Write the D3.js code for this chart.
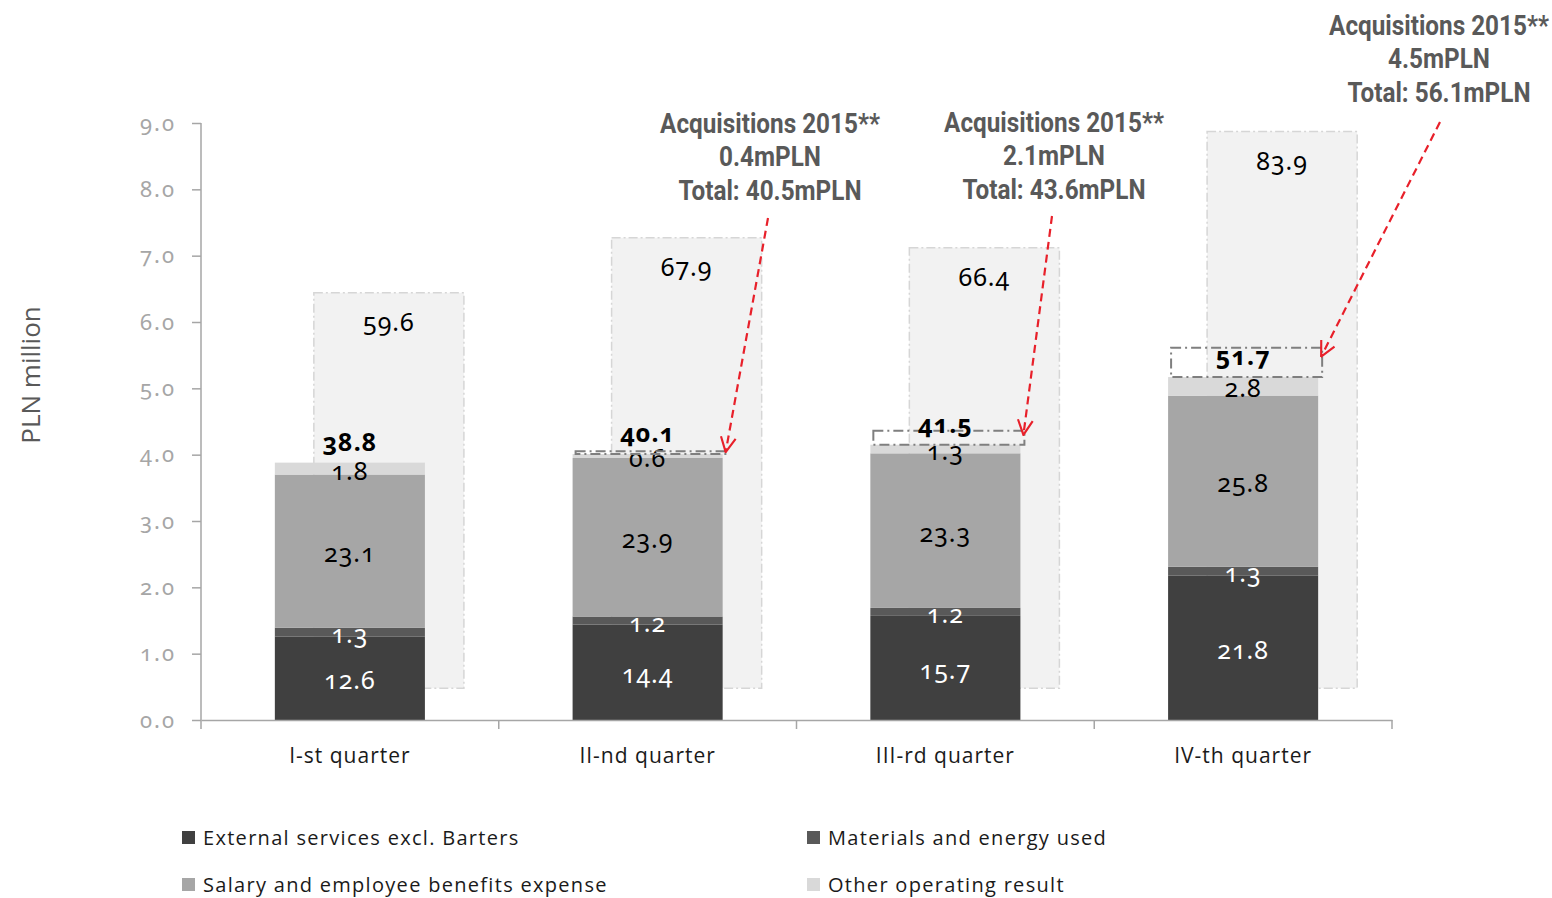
<!DOCTYPE html>
<html>
<head>
<meta charset="utf-8">
<script src="https://cdn.jsdelivr.net/npm/d3@7/dist/d3.min.js"></script>
<style>
  html, body { margin: 0; padding: 0; background: #fff; }
  svg { display: block; }
  .num { font-family: "Noto Sans", "Open Sans", sans-serif; font-feature-settings: "onum" 1; font-variant-numeric: oldstyle-nums; }
  .cat { font-family: "Open Sans", "Noto Sans", sans-serif; }
  .ann { font-family: Roboto, "Liberation Sans", sans-serif; font-weight: 700; fill: #595959; }
</style>
</head>
<body>
<svg id="chart" width="1552" height="898"></svg>
<script>
// Quarterly operating costs (PLN million)
const quarters = ["I-st quarter", "II-nd quarter", "III-rd quarter", "IV-th quarter"];
const externalServices = [12.6, 14.4, 15.7, 21.8];
const materialsEnergy = [1.3, 1.2, 1.2, 1.3];
const salaryBenefits = [23.1, 23.9, 23.3, 25.8];
const otherOperating = [1.8, 0.6, 1.3, 2.8];
const quarterTotals = [38.8, 40.1, 41.5, 51.7];
const acquisitions = [null, 0.4, 2.1, 4.5];
const acquisitionTotals = [null, 40.5, 43.6, 56.1];
const previousYear = [59.6, 67.9, 66.4, 83.9];
const yTickValues = [0, 10, 20, 30, 40, 50, 60, 70, 80, 90];
const yTickLabels = ["0.0", "1.0", "2.0", "3.0", "4.0", "5.0", "6.0", "7.0", "8.0", "9.0"];

const seriesNames = ["External services excl. Barters", "Materials and energy used",
                     "Salary and employee benefits expense", "Other operating result"];
const seriesValues = [externalServices, materialsEnergy, salaryBenefits, otherOperating];
const seriesColors = ["#404040", "#595959", "#a6a6a6", "#d9d9d9"];
const labelColors = ["#ffffff", "#ffffff", "#000000", "#000000"];

const svg = d3.select("#chart");
const plot = { left: 201, right: 1392, top: 123, bottom: 720 };

const x = d3.scaleBand().domain(quarters).range([plot.left, plot.right]).padding(0);
const y = d3.scaleLinear().domain([0, 90]).range([plot.bottom, plot.top]);
const barW = x.bandwidth() * 0.504;
const barX = q => x(q) + (x.bandwidth() - barW) / 2;
const prevShift = x.bandwidth() * 0.131;   // previous-year column sits behind, shifted right
const prevBase = 4.8;                       // previous-year column starts slightly above zero

// previous-year background columns
const prev = svg.append("g");
quarters.forEach((q, i) => {
  prev.append("rect")
    .attr("x", barX(q) + prevShift)
    .attr("y", y(prevBase + previousYear[i]))
    .attr("width", barW)
    .attr("height", y(prevBase) - y(prevBase + previousYear[i]))
    .attr("fill", "#f2f2f2")
    .attr("stroke", "#d6d6d6")
    .attr("stroke-width", 1.5)
    .attr("stroke-dasharray", "9,3,2,3");
  prev.append("text").attr("class", "num")
    .attr("x", barX(q) + prevShift + barW / 2)
    .attr("y", y(prevBase + previousYear[i]) + 38)
    .attr("text-anchor", "middle")
    .attr("font-size", 25)
    .attr("letter-spacing", 1)
    .attr("fill", "#000")
    .text(previousYear[i].toFixed(1));
});

// stacked bars
const stackRows = quarters.map((q, i) => {
  const row = { quarter: q };
  seriesNames.forEach((s, k) => row[s] = seriesValues[k][i]);
  return row;
});
const stacked = d3.stack().keys(seriesNames)(stackRows);
const bars = svg.append("g");
stacked.forEach((layer, k) => {
  bars.selectAll(null).data(layer).join("rect")
    .attr("x", d => barX(d.data.quarter))
    .attr("y", d => y(d[1]))
    .attr("width", barW)
    .attr("height", d => y(d[0]) - y(d[1]))
    .attr("fill", seriesColors[k]);
});
stacked.forEach((layer, k) => {
  bars.selectAll(null).data(layer).join("text")
    .attr("class", "num")
    .attr("x", d => barX(d.data.quarter) + barW / 2)
    .attr("y", d => (y(d[0]) + y(d[1])) / 2 + 11)
    .attr("text-anchor", "middle")
    .attr("font-size", 25)
    .attr("letter-spacing", 1)
    .attr("fill", labelColors[k])
    .text(d => (d[1] - d[0]).toFixed(1));
});

// acquisition boxes on top of the bars
const acq = svg.append("g");
quarters.forEach((q, i) => {
  if (acquisitions[i] == null) return;
  acq.append("rect")
    .attr("x", barX(q) + 3)
    .attr("y", y(acquisitionTotals[i]))
    .attr("width", barW + 1)
    .attr("height", y(quarterTotals[i]) - y(acquisitionTotals[i]))
    .attr("fill", "none")
    .attr("stroke", "#7f7f7f")
    .attr("stroke-width", 2)
    .attr("stroke-dasharray", "10,4,2,4");
});

// totals
quarters.forEach((q, i) => {
  svg.append("text").attr("class", "num")
    .attr("x", barX(q) + barW / 2)
    .attr("y", y(quarterTotals[i]) - 12)
    .attr("text-anchor", "middle")
    .attr("font-size", 25)
    .attr("font-weight", 700)
    .attr("letter-spacing", 1)
    .attr("fill", "#000")
    .text(quarterTotals[i].toFixed(1));
});

// axes
const axisColor = "#a6a6a6";
const yAxis = svg.append("g")
  .attr("transform", `translate(${plot.left},0)`)
  .call(d3.axisLeft(y).tickValues(yTickValues).tickFormat((d, i) => yTickLabels[i]).tickSize(9).tickPadding(16));
yAxis.select(".domain").attr("stroke", axisColor).attr("stroke-width", 1.5).attr("d", `M0,${plot.top}V${plot.bottom}`);
yAxis.selectAll(".tick line").attr("stroke", axisColor).attr("stroke-width", 1.5);
yAxis.selectAll("text").attr("class", "num").attr("font-size", 22).attr("letter-spacing", 2).attr("fill", "#a6a6a6");

const xAxis = svg.append("g")
  .attr("transform", `translate(0,${plot.bottom})`)
  .call(d3.axisBottom(x).tickSize(0).tickPadding(28));
xAxis.select(".domain").attr("stroke", axisColor).attr("stroke-width", 1.5);
xAxis.selectAll("text").attr("class", "cat").attr("font-size", 21).attr("letter-spacing", 1).attr("fill", "#1a1a1a");
const bounds = quarters.map(q => x(q)).concat([plot.right]);
xAxis.selectAll(".bound").data(bounds).join("line")
  .attr("x1", d => d).attr("x2", d => d).attr("y1", 0).attr("y2", 9)
  .attr("stroke", axisColor).attr("stroke-width", 1.5);

// y title
svg.append("text")
  .attr("transform", "translate(40,375) rotate(-90)")
  .attr("text-anchor", "middle")
  .attr("font-family", "'Open Sans', sans-serif")
  .attr("font-size", 26)
  .attr("fill", "#595959")
  .text("PLN million");

// annotations with arrows
svg.append("defs").append("marker")
  .attr("id", "arrowhead").attr("viewBox", "0 0 16 16")
  .attr("refX", 15).attr("refY", 8)
  .attr("markerWidth", 17).attr("markerHeight", 17)
  .attr("markerUnits", "userSpaceOnUse")
  .attr("orient", "auto")
  .append("path").attr("d", "M1,1 L15,8 L1,15")
  .attr("fill", "none").attr("stroke", "#e8202a").attr("stroke-width", 2);

const annPos = [null, { cx: 770, top: 133, sx: 768, sy: 218 },
                { cx: 1054, top: 132, sx: 1052, sy: 216 },
                { cx: 1439, top: 35, sx: 1440, sy: 122 }];
quarters.forEach((q, i) => {
  if (acquisitions[i] == null) return;
  const p = annPos[i];
  const lines = ["Acquisitions 2015**", acquisitions[i].toFixed(1) + "mPLN",
                 "Total: " + acquisitionTotals[i].toFixed(1) + "mPLN"];
  const g = svg.append("g").attr("transform", `translate(${p.cx},${p.top}) scale(0.9,1)`);
  lines.forEach((t, j) => {
    g.append("text").attr("class", "ann")
      .attr("x", 0).attr("y", j * 33.5)
      .attr("text-anchor", "middle")
      .attr("font-size", 27)
      .text(t);
  });
  const yTop = y(acquisitionTotals[i]);
  const h = y(quarterTotals[i]) - yTop;
  svg.append("line")
    .attr("x1", p.sx).attr("y1", p.sy)
    .attr("x2", barX(q) + barW + 3).attr("y2", yTop + h * 0.3)
    .attr("stroke", "#e8202a").attr("stroke-width", 2.2)
    .attr("stroke-dasharray", "8,5")
    .attr("marker-end", "url(#arrowhead)");
});

// legend
const legendPos = [[182, 838], [807, 838], [182, 885], [807, 885]];
seriesNames.forEach((s, k) => {
  const [lx, ly] = legendPos[k];
  svg.append("rect").attr("x", lx).attr("y", ly - 7).attr("width", 13).attr("height", 13)
    .attr("fill", seriesColors[k]);
  svg.append("text").attr("class", "cat")
    .attr("x", lx + 21).attr("y", ly + 7)
    .attr("font-size", 20)
    .attr("letter-spacing", 1.3)
    .attr("fill", "#1a1a1a")
    .text(s);
});
</script>
</body>
</html>
